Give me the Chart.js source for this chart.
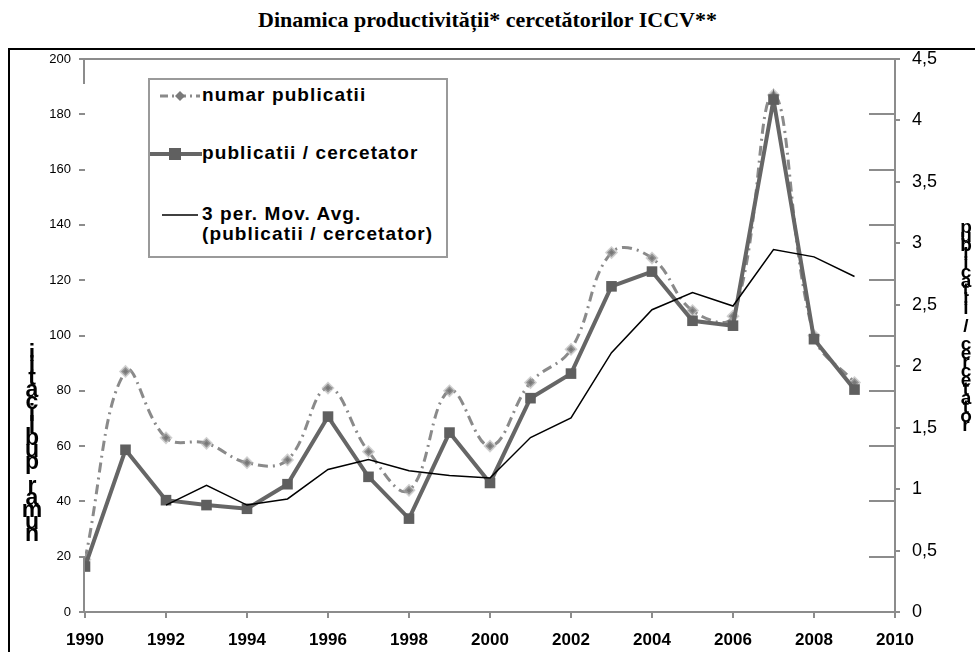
<!DOCTYPE html>
<html>
<head>
<meta charset="utf-8">
<title>Dinamica productivității cercetătorilor ICCV</title>
<script src="https://cdn.jsdelivr.net/npm/chart.js@4.4.1/dist/chart.umd.min.js"></script>
<style>
  html, body { margin: 0; padding: 0; background: #fff; }
  body { width: 975px; height: 652px; position: relative; overflow: hidden; font-family: "Liberation Sans", Arial, sans-serif; }
  .frame { position: absolute; left: 8px; top: 48px; width: 1100px; height: 800px; border: 2px solid #000; }
  .title { position: absolute; left: 0; top: 7px; width: 975px; text-align: center; font: bold 22px "Liberation Serif", "Times New Roman", serif; }
  .wrap { position: absolute; left: 0; top: 0; width: 975px; height: 652px; }
  .legend { position: absolute; left: 148px; top: 78px; width: 296px; height: 176px; border: 2px solid #9a9a9a; background: #fff; }
  .legend .item { position: absolute; left: 0; font-weight: bold; font-size: 19px; letter-spacing: 1.1px; line-height: 20px; color: #000; white-space: nowrap; }
  .legend svg { position: absolute; left: 0; }
  .stack { position: absolute; display: flex; font-weight: bold; color: #000; }
  .stack span { display: block; white-space: pre; text-align: center; }
  #leftTitle { left: 18px; top: 347px; width: 28px; flex-direction: column-reverse; font-size: 23px; }
  #leftTitle span { height: 12px; line-height: 12px; }
  #rightTitle { left: 957px; top: 222px; width: 18px; flex-direction: column; font-size: 19px; }
  #rightTitle span { height: 9px; line-height: 9px; }
</style>
</head>
<body>
<div class="frame"></div>
<div class="title">Dinamica productivității* cercetătorilor ICCV**</div>
<div class="wrap"><canvas id="prodChart"></canvas></div>

<div class="legend">
  <svg width="60" height="176" viewBox="0 0 60 176">
    <line x1="10" y1="16" x2="50" y2="16" stroke="#8a8a8a" stroke-width="3" stroke-dasharray="8 4 2 4"/>
    <polygon points="30,11 35,16 30,21 25,16" fill="#7a7a7a"/>
    <line x1="0" y1="74" x2="52" y2="74" stroke="#666" stroke-width="4"/>
    <rect x="19" y="68" width="12" height="12" fill="#606060"/>
    <line x1="12" y1="135" x2="48" y2="135" stroke="#000" stroke-width="1.5"/>
  </svg>
  <div class="item" style="left:52px; top:5px;">numar publicatii</div>
  <div class="item" style="left:52px; top:63px;">publicatii / cercetator</div>
  <div class="item" style="left:52px; top:124px;">3 per. Mov. Avg.<br>(publicatii / cercetator)</div>
</div>

<div class="stack" id="leftTitle"></div>
<div class="stack" id="rightTitle"></div>

<script>
'use strict';

// data
const years = [1990, 1991, 1992, 1993, 1994, 1995, 1996, 1997, 1998, 1999,
               2000, 2001, 2002, 2003, 2004, 2005, 2006, 2007, 2008, 2009];
const pubCount = [19, 87, 63, 61, 54, 55, 81, 58, 44, 80,
                  60, 83, 95, 130, 128, 109, 107, 187, 100, 83];
const pubPerResearcher = [0.37, 1.32, 0.91, 0.87, 0.84, 1.04, 1.59, 1.10, 0.76, 1.46,
                          1.05, 1.74, 1.94, 2.65, 2.77, 2.37, 2.33, 4.17, 2.22, 1.81];
const movingAvg = [null, null, 0.87, 1.03, 0.87, 0.92, 1.16, 1.24, 1.15, 1.11,
                   1.09, 1.42, 1.58, 2.11, 2.46, 2.60, 2.49, 2.95, 2.89, 2.73];

const seriesLabels = ['numar publicatii', 'publicatii / cercetator', '3 per. Mov. Avg. (publicatii / cercetator)'];
const leftAxisTitle = 'numar publicatii';
const rightAxisTitle = 'publicatii / cercetator';

const axisGray = '#8c8c8c';

function points(values) {
    return years.map((yr, i) => ({ x: yr, y: values[i] }));
}

// stacked axis titles, one letter per line like the original
function stackLetters(el, text) {
    for (const ch of text) {
        const s = document.createElement('span');
        s.textContent = ch;
        el.appendChild(s);
    }
}
stackLetters(document.getElementById('leftTitle'), leftAxisTitle);
stackLetters(document.getElementById('rightTitle'), rightAxisTitle);

// axis bits the default scales do not draw
const axisDecor = {
    id: 'axisDecor',
    beforeDatasetsDraw(chart) {
        const { ctx, chartArea: a, scales } = chart;
        ctx.save();
        ctx.strokeStyle = axisGray;
        ctx.lineWidth = 2;
        ctx.beginPath();
        // top edge of the plot
        ctx.moveTo(a.left - 1, a.top);
        ctx.lineTo(a.right, a.top);
        // left axis stubs
        ctx.moveTo(a.left - 1, a.top);
        ctx.lineTo(a.left - 1, scales.y.getPixelForValue(191));
        ctx.moveTo(a.left - 1, scales.y.getPixelForValue(20));
        ctx.lineTo(a.left - 1, a.bottom);
        // inner ticks on the right axis at the left scale steps
        for (let v = 20; v < 200; v += 20) {
            const py = Math.round(scales.y.getPixelForValue(v));
            ctx.moveTo(a.right - 26, py);
            ctx.lineTo(a.right, py);
        }
        ctx.stroke();
        ctx.restore();
    }
};

const ctx = document.getElementById('prodChart').getContext('2d');
const prodChart = new Chart(ctx, {
    type: 'line',
    data: {
        datasets: [
            {
                label: seriesLabels[0],
                data: points(pubCount),
                yAxisID: 'y',
                borderColor: '#8a8a8a',
                borderWidth: 3,
                borderDash: [10, 5, 2, 5],
                tension: 0.4,
                pointStyle: 'rectRot',
                pointRadius: 4.5,
                pointBackgroundColor: '#787878',
                pointBorderColor: 'rgba(170,170,170,0.55)',
                pointBorderWidth: 3,
                order: 3
            },
            {
                label: seriesLabels[1],
                data: points(pubPerResearcher),
                yAxisID: 'y1',
                borderColor: '#666666',
                borderWidth: 4,
                tension: 0,
                pointStyle: 'rect',
                pointRadius: 7.5,
                pointBackgroundColor: '#5f5f5f',
                pointBorderWidth: 0,
                order: 2
            },
            {
                label: seriesLabels[2],
                data: points(movingAvg),
                yAxisID: 'y1',
                borderColor: '#000000',
                borderWidth: 1.5,
                tension: 0,
                pointRadius: 0,
                order: 1
            }
        ]
    },
    options: {
        responsive: true,
        maintainAspectRatio: false,
        animation: false,
        layout: { padding: { top: 59, bottom: 0, left: 0, right: 0 } },
        plugins: { legend: { display: false }, tooltip: { enabled: false } },
        scales: {
            x: {
                type: 'linear',
                min: 1990,
                max: 2010,
                afterFit: s => { s.height = 40; },
                ticks: {
                    stepSize: 2,
                    padding: 12,
                    color: '#000',
                    font: { family: 'Liberation Sans', size: 17, weight: 'bold' },
                    callback: v => String(v)
                },
                grid: { drawOnChartArea: false, tickLength: 6, color: axisGray, lineWidth: 2 },
                border: { color: axisGray, width: 2 }
            },
            y: {
                position: 'left',
                min: 0,
                max: 200,
                afterFit: s => { s.width = 85; },
                ticks: {
                    stepSize: 20,
                    padding: 8,
                    color: '#000',
                    font: { family: 'Liberation Sans', size: 13 }
                },
                grid: { drawOnChartArea: false, tickLength: 6, color: axisGray, lineWidth: 2 },
                border: { display: false }
            },
            y1: {
                position: 'right',
                min: 0,
                max: 4.5,
                afterFit: s => { s.width = 80; },
                ticks: {
                    stepSize: 0.5,
                    padding: 12,
                    color: '#000',
                    font: { family: 'Liberation Sans', size: 18 },
                    callback: v => String(v).replace('.', ',')
                },
                grid: { drawOnChartArea: false, tickLength: 5, color: axisGray, lineWidth: 2 },
                border: { color: axisGray, width: 2 }
            }
        }
    },
    plugins: [axisDecor]
});
</script>
</body>
</html>
